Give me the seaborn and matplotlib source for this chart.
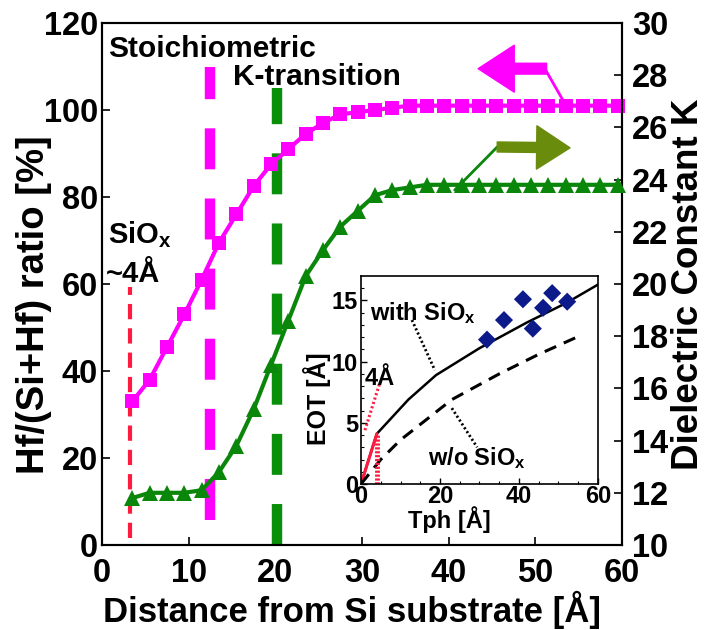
import numpy as np
import pandas as pd
import matplotlib
matplotlib.use("Agg")
import matplotlib.pyplot as plt
import seaborn as sns

# ---------------- data ----------------
distance = [3.5, 5.5, 7.5, 9.5, 11.5, 13.5, 15.5, 17.5, 19.5, 21.5, 23.5, 25.5, 27.5,
            29.5, 31.5, 33.5, 35.5, 37.5, 39.5, 41.5, 43.5, 45.5, 47.5, 49.5, 51.5,
            53.5, 55.5, 57.5, 59.5]
hf_ratio = [33, 38, 45.5, 53, 61, 69.5, 76, 82.5, 87.5, 91, 94.5, 97, 99, 99.5, 100,
            100.5, 101, 101, 101, 101, 101, 101, 101, 101, 101, 101, 101, 101, 101]
k_value = [11.8, 12.0, 12.0, 12.0, 12.1, 12.8, 13.8, 15.2, 16.9, 18.6, 20.3, 21.3, 22.2,
           22.8, 23.4, 23.6, 23.7, 23.8, 23.8, 23.8, 23.8, 23.8, 23.8, 23.8, 23.8,
           23.8, 23.8, 23.8, 23.8]

x_ticks = [0, 10, 20, 30, 40, 50, 60]
left_ticks = [0, 20, 40, 60, 80, 100, 120]
right_ticks = [10, 12, 14, 16, 18, 20, 22, 24, 26, 28, 30]

# boundaries (x position in Å)
sio_x = 3.2
stoich_x = 12.5
ktrans_x = 20.2

# inset data
tph_with = [4, 12, 19, 30, 42, 52, 60]
eot_with = [4.1, 6.9, 8.9, 11.1, 13.2, 14.8, 16.3]
tph_wo = [0, 5, 10, 23, 35, 45, 56]
eot_wo = [0, 2.0, 3.6, 6.9, 9.0, 10.6, 12.2]
tph_meas = [31.9, 36.2, 41.0, 43.5, 46.1, 48.4, 52.2]
eot_meas = [11.8, 13.4, 15.1, 12.7, 14.4, 15.6, 14.9]
inset_xticks = [0, 20, 40, 60]
inset_yticks = [0, 5, 10, 15]

# ---------------- style ----------------
sns.set_style("ticks")
plt.rcParams['font.family'] = ['Liberation Sans', 'DejaVu Sans']
plt.rcParams.update({
    'font.weight': 'bold',
    'axes.labelweight': 'bold',
    'text.color': 'black',
    'axes.labelcolor': 'black',
    'xtick.color': 'black',
    'ytick.color': 'black',
    'axes.edgecolor': 'black',
    'mathtext.fontset': 'custom',
    'mathtext.rm': 'Liberation Sans:bold',
    'mathtext.it': 'Liberation Sans:bold',
    'mathtext.bf': 'Liberation Sans:bold',
    'lines.scale_dashes': False,
})

MAG = '#ff00ff'
GRN = '#0a870a'
OLV = '#6a8c0c'
RED = '#ff1a40'
NAVY = '#0d1a8a'

fig = plt.figure(figsize=(7.07, 6.3), dpi=100)
# axes box: x 102..622 px, y 23..545 px
ax = fig.add_axes([102 / 707, 1 - 545 / 630, 520 / 707, 522 / 630])
ax2 = ax.twinx()

df = pd.DataFrame({'d': distance, 'hf': hf_ratio, 'k': k_value})

# vertical dashed boundary lines
ax.plot([sio_x, sio_x], [1.5, 59.3], color=RED, lw=3, dashes=(11, 6.5))
ax.plot([stoich_x, stoich_x], [5.7, 110], color=MAG, lw=7.5, dashes=(29.5, 21))
ax.plot([ktrans_x, ktrans_x], [0, 105], color='#0a8f0a', lw=7.5, dashes=(29.5, 21))

sns.lineplot(data=df, x='d', y='hf', ax=ax, color=MAG, marker='s', markersize=10.5,
             markeredgewidth=0, linewidth=3, clip_on=False, zorder=5)
sns.lineplot(data=df, x='d', y='k', ax=ax2, color=GRN, marker='^', markersize=11,
             markeredgewidth=0, linewidth=3, clip_on=False, zorder=5)

ax.set_xlim(0, 60)
ax.set_ylim(0, 120)
ax2.set_ylim(10, 30)
ax.set_xticks(x_ticks)
ax.set_yticks(left_ticks)
ax2.set_yticks(right_ticks)
for a in (ax, ax2):
    a.tick_params(direction='in', labelsize=23.5, length=6, width=1.2)
    for s in a.spines.values():
        s.set_linewidth(1.5)
        s.set_visible(True)
ax.tick_params(axis='x', pad=9)
ax.tick_params(axis='y', pad=3)
ax2.tick_params(axis='y', pad=7)

ax.set_xlabel('Distance from Si substrate [Å]', fontsize=25)
ax.xaxis.label.set_va('baseline')
ax.xaxis.set_label_coords(0.48, (545 - 622) / 522)
ax.set_ylabel('Hf/(Si+Hf) ratio [%]', fontsize=27.5)
ax.yaxis.label.set_va('baseline')
ax.yaxis.set_label_coords((44 - 102) / 520, 0.46)
ax2.set_ylabel('Dielectric Constant K', fontsize=26.5)
ax2.yaxis.label.set_va('baseline')
ax2.yaxis.set_label_coords((698 - 102) / 520, 0.50)

# annotations
ax.text(0.7, 112.2, 'Stoichiometric', fontsize=21.5, va='baseline', ha='left')
ax.text(15.1, 105.7, 'K-transition', fontsize=21.5, va='baseline', ha='left')
ax.text(0.7, 69.4, r'SiO$_x$', fontsize=21, va='baseline', ha='left')
ax.text(0.5, 60.5, '~4Å', fontsize=21, va='baseline', ha='left')

# magenta arrow (points left to the left axis)
ax.annotate('', xy=(43.4, 109.5), xytext=(51.3, 109.5),
            arrowprops=dict(arrowstyle='simple,head_length=1.0,head_width=1.3,tail_width=0.3',
                            color=MAG, mutation_scale=26, shrinkA=0, shrinkB=0))
ax.plot([51.1, 53.4], [109.5, 101.5], color=MAG, lw=2)
# green arrow (points right to the right axis)
ax.plot([40.7, 45.6], [81.6, 91.5], color=GRN, lw=2)
ax.annotate('', xy=(54.0, 91.3), xytext=(45.6, 91.5),
            arrowprops=dict(arrowstyle='simple,head_length=1.0,head_width=1.3,tail_width=0.3',
                            color=OLV, mutation_scale=24, shrinkA=0, shrinkB=0))

# ---------------- inset ----------------
ins = fig.add_axes([361 / 707, 1 - 484 / 630, 237 / 707, 208 / 630])
sns.lineplot(x=[0] + tph_with, y=[0] + eot_with, ax=ins, color='black', lw=1.8)
ins.plot([0, 4], [0, 4.1], color=RED, lw=2.2)
sns.lineplot(x=tph_wo, y=eot_wo, ax=ins, color='black', lw=2.2)
ins.lines[-1].set_dashes((9, 6))
ins.plot([4, 4], [0, 4.1], color=RED, lw=3.5, dashes=(1.6, 1.2))
ins.plot([1.0, 4.8], [4.4, 8.3], color=RED, lw=2.2, dashes=(1.5, 1.8))
sns.scatterplot(x=tph_meas, y=eot_meas, ax=ins, marker='D', s=85, color=NAVY,
                edgecolor='none', zorder=6)
ins.plot([12.9, 18.7], [13.4, 9.3], color='black', lw=2, dashes=(1.5, 1.8))
ins.plot([23.0, 29.4], [6.2, 3.0], color='black', lw=2, dashes=(1.5, 1.8))
ins.text(2.3, 13.4, r'with SiO$_x$', fontsize=17, va='baseline', ha='left')
ins.text(17.0, 1.55, r'w/o SiO$_x$', fontsize=17, va='baseline', ha='left')
ins.text(1.0, 8.1, '4Å', fontsize=17, va='baseline', ha='left')

ins.set_xlim(0, 60)
ins.set_ylim(0, 17)
ins.set_xticks(inset_xticks)
ins.set_yticks(inset_yticks)
ins.set_xticks(np.arange(0, 61, 5), minor=True)
ins.set_yticks(np.arange(0, 17, 1), minor=True)
ins.tick_params(direction='in', labelsize=17, length=4, width=1)
ins.tick_params(axis='x', pad=1)
ins.tick_params(axis='y', pad=2)
ins.tick_params(which='minor', direction='in', length=2.5, width=0.8)
for s in ins.spines.values():
    s.set_linewidth(1.2)
    s.set_visible(True)
ins.set_xlabel('Tph [Å]', fontsize=17)
ins.xaxis.label.set_va('baseline')
ins.xaxis.set_label_coords(0.375, (484 - 528) / 208)
ins.set_ylabel('EOT [Å]', fontsize=18)
ins.yaxis.label.set_va('baseline')
ins.yaxis.set_label_coords((326 - 361) / 237, 0.41)

fig.savefig('out.png', dpi=100)
